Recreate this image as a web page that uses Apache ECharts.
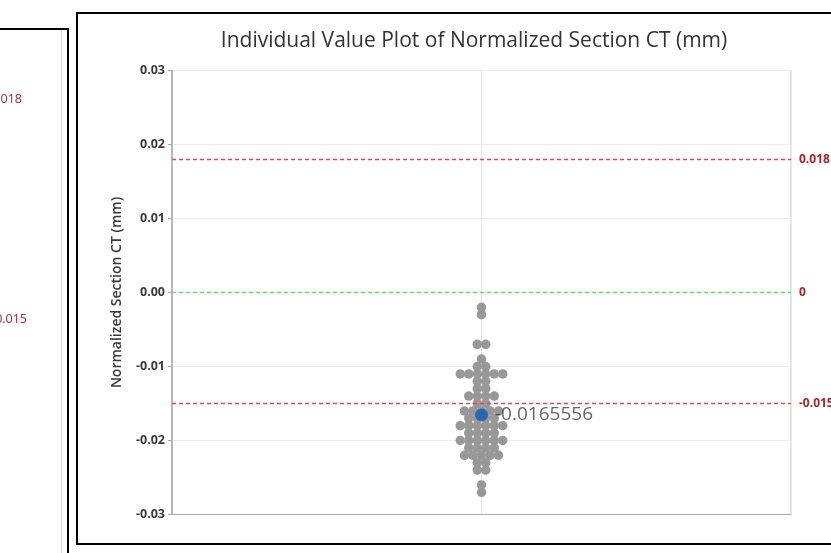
<!DOCTYPE html>
<html><head><meta charset="utf-8">
<script src="https://cdn.jsdelivr.net/npm/echarts@6/dist/echarts.min.js"></script>
<style>html,body{margin:0;padding:0;background:#fff;overflow:hidden}#c{width:831px;height:553px}</style>
</head><body><div id="c"></div><script>
// ---- data ----
const titleText = 'Individual Value Plot of Normalized Section CT (mm)';
const yAxisName = 'Normalized Section CT (mm)';
const yMin = -0.03, yMax = 0.03, yStep = 0.01;
// individual values grouped by value (value, number of observations)
const rowValues = [-0.002,-0.003,-0.007,-0.009,-0.010,-0.011,-0.012,-0.013,-0.014,-0.015,-0.016,-0.017,-0.018,-0.019,-0.020,-0.021,-0.022,-0.023,-0.024,-0.026,-0.027];
const rowCounts = [1,1,2,1,2,6,2,2,4,2,5,4,6,4,6,4,5,2,2,1,1];
const refValues = [0.018, 0, -0.015];
const refLabels = ['0.018', '0', '-0.015'];
const refColors = ['#e24848', '#6fd86f', '#e24848'];
const leftPanelLabels = ['0.018', '-0.015'];

// ---- build ----
const FONT = '"Open Sans", "Noto Sans", sans-serif';
const dotGap = 8.5;
const points = [];
let sum = 0, n = 0;
rowValues.forEach((v, i) => {
  const c = rowCounts[i];
  for (let k = 0; k < c; k++) {
    points.push([(k - (c - 1) / 2) * dotGap, v]);
    sum += v; n++;
  }
});
const mean = sum / n;
const meanText = mean.toFixed(7);

const chart = echarts.init(document.getElementById('c'), null, {renderer: 'canvas'});
const gridW = 619;
chart.setOption({
  animation: false,
  backgroundColor: '#ffffff',
  grid: {left: 172, top: 70.5, width: gridW, height: 444, show: true, borderColor: '#cfcfcf', borderWidth: 1},
  xAxis: {
    type: 'value', min: -gridW / 2, max: gridW / 2, interval: gridW / 2,
    axisLabel: {show: false}, axisTick: {show: false},
    axisLine: {show: true, onZero: false, lineStyle: {color: '#a8a8a8', width: 1}},
    splitLine: {show: true, lineStyle: {color: '#e6e6e6', width: 1}}
  },
  yAxis: {
    type: 'value', min: yMin, max: yMax, interval: yStep,
    name: yAxisName, nameLocation: 'middle', nameGap: 48, nameRotate: 90,
    nameTextStyle: {fontFamily: FONT, fontSize: 14, color: '#3a3a3a', fontWeight: 600},
    axisLine: {show: true, onZero: false, lineStyle: {color: '#a8a8a8', width: 1.5}},
    axisTick: {show: true, length: 4, lineStyle: {color: '#a8a8a8'}},
    axisLabel: {fontFamily: FONT, fontSize: 12.5, fontWeight: 'bold', color: '#3a3a3a', margin: 7,
      formatter: v => v.toFixed(2)},
    splitLine: {show: true, lineStyle: {color: '#ececec', width: 1}}
  },
  series: [
    {
      type: 'scatter', data: points, symbolSize: 9.5, z: 3,
      itemStyle: {color: '#989898', opacity: 1}
    },
    {
      type: 'line', data: [], z: 2,
      markLine: {
        silent: true, symbol: 'none', animation: false, precision: 6,
        lineStyle: {color: refColors[0], type: [4, 3], width: 1.4},
        label: {show: true, position: 'end', distance: 8,
          fontFamily: FONT, fontSize: 12, fontWeight: 'bold', color: '#a3262a'},
        data: refValues.map((v, i) => ({
          yAxis: v,
          lineStyle: {color: refColors[i], type: [4, 3], width: 1.4},
          label: {formatter: refLabels[i]}
        }))
      }
    },
    {
      type: 'scatter', data: [[0, mean]], symbolSize: 13, z: 5,
      itemStyle: {color: '#0b5cb8'},
      label: {show: true, position: 'right', distance: 7, formatter: meanText,
        fontFamily: FONT, fontSize: 19, color: '#404040'}
    }
  ],
  graphic: [
    {type: 'text', x: 474, y: 41, z: 10,
      style: {text: titleText, fontFamily: FONT, fontSize: 21, fill: '#333333', align: 'center', verticalAlign: 'middle'}},
    {type: 'rect', shape: {x: 77, y: 13, width: 800, height: 531}, z: 20,
      style: {fill: 'none', stroke: '#000', lineWidth: 2}},
    {type: 'rect', shape: {x: -20, y: 29, width: 88, height: 600}, z: 20,
      style: {fill: 'none', stroke: '#000', lineWidth: 2}},
    {type: 'line', shape: {x1: 61.5, y1: 30, x2: 61.5, y2: 553}, z: 19,
      style: {stroke: '#d4d4d4', lineWidth: 1}},
    {type: 'text', x: 22, y: 99, z: 10,
      style: {text: leftPanelLabels[0], fontFamily: FONT, fontSize: 12.5, fill: '#a3262a', align: 'right', verticalAlign: 'middle'}},
    {type: 'text', x: 27, y: 319, z: 10,
      style: {text: leftPanelLabels[1], fontFamily: FONT, fontSize: 12.5, fill: '#a3262a', align: 'right', verticalAlign: 'middle'}}
  ]
});
</script></body></html>
